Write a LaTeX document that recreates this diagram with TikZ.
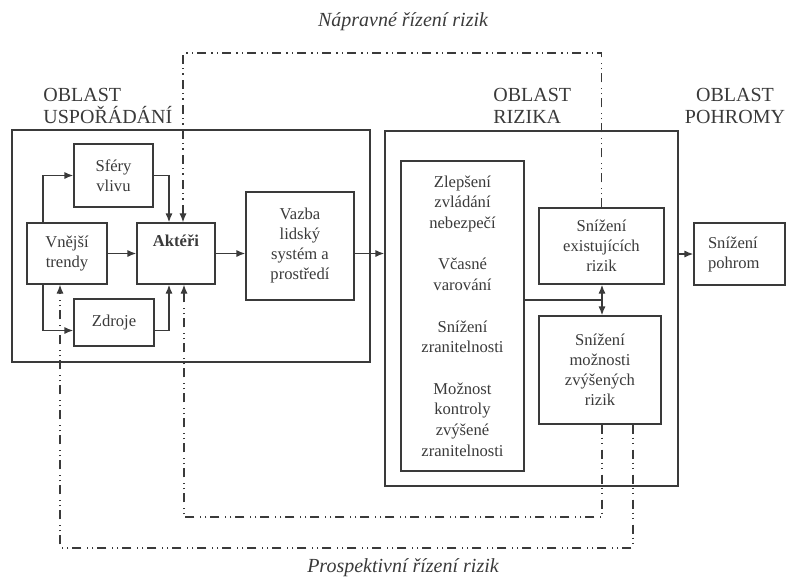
\documentclass[tikz,border=0pt]{standalone}
\usepackage{fontspec}
\setmainfont{Liberation Serif}
\usetikzlibrary{arrows.meta,calc}
\definecolor{ink}{HTML}{3A3A3A}
\tikzstyle{box}=[draw=ink, line width=0.7pt, inner sep=0pt, align=center, font=\fontsize{8.3}{10}\selectfont]
\tikzstyle{region}=[draw=ink, line width=0.7pt, inner sep=0pt]
\tikzstyle{heading}=[inner sep=0pt, align=left, font=\fontsize{10}{11}\selectfont]
\tikzstyle{caption}=[inner sep=0pt, font=\fontsize{10}{12}\selectfont\itshape]
\tikzstyle{flow}=[draw=ink, line width=0.7pt, -{Latex[length=4.5pt,width=3.6pt]}]
\tikzstyle{riskflow}=[draw=ink, line width=0.6pt, dash pattern=on 4.5pt off 2pt on 0.6pt off 2pt on 0.6pt off 2.8pt, -{Latex[length=4.5pt,width=3.6pt]}]

\begin{document}
\begin{tikzpicture}[x=0.5pt, y=-0.5pt, text=ink]
		\useasboundingbox (0,0) rectangle (788,579);
		% First the three regions and their headings
		\node[region, minimum width=179pt, minimum height=116pt] (usp) at (191,246) {};
		\node[region, minimum width=146.5pt, minimum height=177.5pt] (risk) at (531.5,308.5) {};
		\node[heading, anchor=west] (uspl) at (43,106) {OBLAST\\USPOŘÁDÁNÍ};
		\node[heading, anchor=west] (riskl) at (493,106) {OBLAST\\RIZIKA};
		\node[heading, align=center] (pohl) at (735,106) {OBLAST\\POHROMY};
		
		% Then the boxes
		\foreach \pos/\name/\w/\h/\txt in {
			{(113.5,175.5)/sfery/39.5pt/31.5pt/{Sféry\\vlivu}},
			{(67,253.5)/trendy/40pt/30.5pt/{Vnější\\trendy}},
			{(114,322.5)/zdroje/40pt/23.5pt/{Zdroje}},
			{(300,246)/vazba/54pt/54pt/{Vazba\\lidský\\systém a\\prostředí}},
			{(601.5,246)/exist/62.5pt/38pt/{Snížení\\existujících\\rizik}},
			{(600,370)/moz/61pt/54pt/{Snížení\\možnosti\\zvýšených\\rizik}}}
		\node[box, minimum width=\w, minimum height=\h] (\name) at \pos {\txt};
		
		\node[box, font=\fontsize{8.3}{10}\selectfont\bfseries, minimum width=39pt, text height=11.5pt, text depth=19pt] (akt) at (176,253.5) {Aktéři};
		\node[box, minimum width=61.5pt, minimum height=155pt, font=\fontsize{8.3}{10.35}\selectfont] (opat) at (462.5,316) {Zlepšení\\zvládání\\nebezpečí\\[10.35pt]Včasné\\varování\\[10.35pt]Snížení\\zranitelnosti\\[10.35pt]Možnost\\kontroly\\zvýšené\\zranitelnosti};
		\node[box, align=left, text width=31.5pt, inner xsep=7pt, minimum height=31pt] (pohrom) at (739.5,254) {Snížení\\pohrom};
		
		\node[caption] (napr) at (403,22) {Nápravné řízení rizik};
		\node[caption] (prosp) at (403,568) {Prospektivní řízení rizik};
		
		\coordinate (ntop) at (183,53);
		\coordinate (nbot) at (184,517);
		\coordinate (pbot) at (60,548);
		\coordinate (jn) at (602,300);
		
		% Connect boxes
		\draw[flow] ([xshift=-12pt]trendy.north) |- (sfery);
		\draw[flow] (sfery) -| ([xshift=-3.5pt]akt.north);
		\draw[flow] ([xshift=-12pt]trendy.south) |- ([yshift=-4pt]zdroje.west);
		\draw[flow] ([yshift=-4pt]zdroje.east) -| ([xshift=-3.5pt]akt.south);
		\draw[flow] (trendy) -- (akt);
		\draw[flow] (akt.east) -- (akt.east -| vazba.west);
		\draw[flow] (akt.east -| vazba.east) -- (akt.east -| risk.west);
		\draw[flow] (pohrom -| risk.east) -- (pohrom);
		\draw[flow, -] (opat.east |- jn) -- (jn);
		\draw[flow, {Latex[length=4.5pt,width=3.6pt]}-{Latex[length=4.5pt,width=3.6pt]}] (exist.south -| jn) -- (moz.north -| jn);
		
		% Risk management loops
		\draw[riskflow] (exist.north) |- (ntop) -- (ntop |- akt.north);
		\draw[riskflow] ([xshift=1pt]moz.south) |- (nbot) -- (nbot |- akt.south);
		\draw[riskflow] ([xshift=16.5pt]moz.south) |- (pbot) -- (pbot |- trendy.south);
\end{tikzpicture}
\end{document}
